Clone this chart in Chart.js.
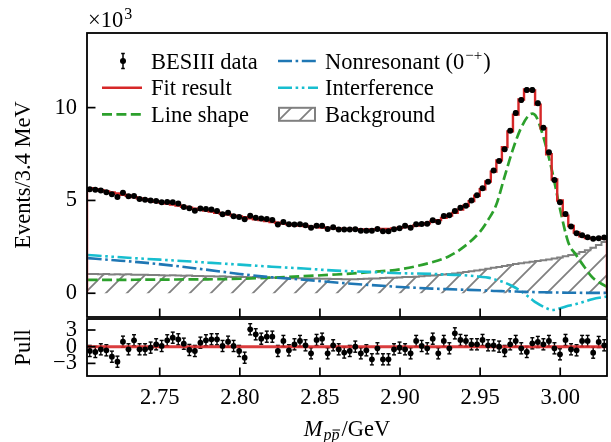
<!DOCTYPE html>
<html>
<head>
<meta charset="utf-8">
<script src="https://cdn.jsdelivr.net/npm/chart.js@4.4.1/dist/chart.umd.min.js"></script>
<style>
  body { margin: 0; background: #fff; }
  .box { position: relative; width: 611px; height: 442px; }
  canvas { position: absolute; left: 0; top: 0; }
</style>
</head>
<body>
<div class="box">
  <canvas id="mainChart" width="611" height="442"></canvas>
  <canvas id="pullChart" width="611" height="442"></canvas>
</div>
<script>
// events per 3.4 MeV bin, in units of 10^3
const dataCounts = [5.60, 5.58, 5.53, 5.44, 5.33, 5.19, 5.42, 5.22, 5.24, 5.08,
  5.04, 4.99, 4.97, 4.90, 4.92, 4.90, 4.83, 4.65, 4.58, 4.45,
  4.56, 4.54, 4.51, 4.43, 4.26, 4.33, 4.15, 4.11, 3.99, 4.18,
  4.07, 4.02, 4.00, 3.95, 3.70, 3.84, 3.72, 3.70, 3.72, 3.66,
  3.53, 3.64, 3.64, 3.46, 3.56, 3.43, 3.43, 3.43, 3.45, 3.37,
  3.36, 3.36, 3.46, 3.34, 3.34, 3.45, 3.50, 3.63, 3.53, 3.72,
  3.73, 3.75, 3.93, 3.84, 4.16, 4.20, 4.43, 4.61, 4.72, 4.99,
  5.28, 5.66, 6.01, 6.61, 7.13, 7.76, 8.76, 9.71, 10.41, 10.95,
  10.95, 10.24, 8.92, 7.60, 6.10, 4.90, 4.27, 3.59, 3.23, 3.12,
  3.02, 2.94, 2.96, 3.00];
const fitCounts = [5.66, 5.61, 5.55, 5.49, 5.43, 5.37, 5.31, 5.25, 5.18, 5.11,
  5.05, 4.99, 4.93, 4.88, 4.83, 4.78, 4.73, 4.66, 4.61, 4.55,
  4.50, 4.45, 4.40, 4.34, 4.28, 4.24, 4.18, 4.14, 4.09, 4.04,
  3.99, 3.94, 3.89, 3.84, 3.80, 3.76, 3.72, 3.68, 3.65, 3.62,
  3.59, 3.56, 3.54, 3.52, 3.50, 3.48, 3.47, 3.46, 3.45, 3.44,
  3.44, 3.44, 3.45, 3.46, 3.47, 3.49, 3.52, 3.56, 3.60, 3.65,
  3.71, 3.77, 3.85, 3.94, 4.06, 4.19, 4.33, 4.51, 4.71, 4.96,
  5.25, 5.60, 6.02, 6.55, 7.16, 7.87, 8.72, 9.62, 10.44, 10.98,
  10.92, 10.16, 8.88, 7.49, 6.13, 5.00, 4.18, 3.62, 3.27, 3.07,
  2.98, 2.96, 2.95, 2.98];
const bkgCounts = [1.03, 1.04, 1.02, 1.03, 1.01, 1.02, 1.01, 1.02, 1.00, 0.99,
  1.00, 0.98, 0.98, 0.97, 0.96, 0.97, 0.95, 0.94, 0.95, 0.93,
  0.93, 0.92, 0.92, 0.90, 0.91, 0.89, 0.88, 0.89, 0.87, 0.86,
  0.87, 0.85, 0.85, 0.84, 0.83, 0.83, 0.82, 0.81, 0.81, 0.80,
  0.79, 0.79, 0.78, 0.78, 0.77, 0.77, 0.76, 0.76, 0.76, 0.77,
  0.78, 0.79, 0.80, 0.82, 0.83, 0.84, 0.85, 0.87, 0.88, 0.89,
  0.92, 0.94, 0.96, 0.98, 1.01, 1.04, 1.07, 1.10, 1.14, 1.18,
  1.22, 1.27, 1.32, 1.37, 1.42, 1.47, 1.52, 1.57, 1.62, 1.66,
  1.70, 1.74, 1.78, 1.82, 1.87, 1.93, 1.99, 2.06, 2.13, 2.22,
  2.32, 2.45, 2.60, 2.76];
const pullValues = [-0.77, -0.95, -0.47, -0.65, -1.80, -2.70, 0.90, -0.47, 1.15, -0.47,
  -0.47, -0.17, 0.43, 0.13, 1.15, 1.62, 1.33, 0.54, -0.59, -0.77,
  0.72, 1.15, 1.33, 1.33, 0.13, 0.90, 0.13, -0.77, -1.98, 3.13,
  2.23, 1.44, 1.80, 1.80, -0.77, 1.03, -0.65, 0.43, 1.03, 0.25,
  -1.19, 1.21, 1.44, -1.19, 0.25, -0.47, -1.05, -0.77, 0.01, -1.19,
  -0.65, -2.27, -0.29, -2.27, -2.27, -0.47, -0.17, -0.47, -1.19, 1.03,
  0.13, -0.29, 1.44, -1.19, 1.03, -0.29, 2.40, 1.21, 1.03, 0.43,
  0.43, 1.21, 0.25, 0.25, 0.01, -0.77, 0.43, 1.03, -0.29, -0.95,
  0.61, 0.85, 0.43, 1.03, -0.29, -1.37, 1.21, -0.47, -0.65, 1.03,
  1.03, -1.07, 0.85, 0.25];

// smooth fit components sampled along the mass axis
const curveMass = [2.705, 2.72, 2.74, 2.76, 2.78, 2.80, 2.82, 2.84, 2.86, 2.88,
  2.90, 2.92, 2.93, 2.94, 2.95, 2.955, 2.96, 2.965, 2.97, 2.975,
  2.98, 2.9825, 2.985, 2.99, 2.995, 3.00, 3.005, 3.01, 3.015, 3.02, 3.029];
const lineShape = [0.72, 0.72, 0.73, 0.74, 0.75, 0.78, 0.84, 0.92, 1.01, 1.13,
  1.29, 1.67, 1.97, 2.51, 3.32, 3.95, 4.75, 6.20, 7.63, 8.80,
  9.55, 9.68, 9.52, 8.26, 6.55, 4.49, 2.75, 2.05, 1.43, 0.86, 0.35];
const nonResonant = [1.89, 1.79, 1.65, 1.47, 1.26, 1.04, 0.86, 0.73, 0.58, 0.45,
  0.34, 0.25, 0.22, 0.19, 0.16, 0.14, 0.12, 0.11, 0.10, 0.08,
  0.07, 0.065, 0.06, 0.05, 0.04, 0.035, 0.03, 0.03, 0.02, 0.02, 0.02];
const interference = [2.06, 1.97, 1.86, 1.76, 1.65, 1.54, 1.43, 1.33, 1.22, 1.15,
  1.08, 1.04, 1.00, 0.97, 0.89, 0.84, 0.72, 0.59, 0.39, 0.14,
  -0.18, -0.35, -0.51, -0.75, -0.90, -0.81, -0.68, -0.58, -0.45, -0.32, -0.18];

const xTicks = [2.75, 2.80, 2.85, 2.90, 2.95, 3.00];
const yTicks = [0, 5, 10];
const pullTicks = [-3, 0, 3];

const xMin = 2.7046, xMax = 3.0292;
const binWidth = (xMax - xMin) / dataCounts.length;
const binLow = dataCounts.map((_, i) => xMin + i * binWidth);
const binMid = binLow.map(v => v + binWidth / 2);

const FONT = '"Liberation Serif"';
const FS = 22.5;
const RED = '#d62728', GREEN = '#2ca02c', BLUE = '#1f77b4', CYAN = '#17becf', GREY = '#808080';
const DASH_LS = [10, 4.4], DASH_NR = [14, 3.6, 2.6, 3.6], DASH_IF = [14, 3.6, 2.6, 3.6, 2.6, 3.6];

Chart.defaults.font.family = 'Liberation Serif';
Chart.defaults.font.size = FS;
Chart.defaults.color = '#000';

function steps(vals) {
  const pts = [{x: xMin, y: 0}];
  vals.forEach((v, i) => pts.push({x: binLow[i], y: v}));
  pts.push({x: xMax, y: vals[vals.length - 1]});
  pts.push({x: xMax, y: 0});
  return pts;
}
function curve(vals) {
  return curveMass.map((x, i) => ({x: x, y: vals[i]}));
}

const hatch = (() => {
  const c = document.createElement('canvas');
  c.width = 21; c.height = 21;
  const g = c.getContext('2d');
  g.strokeStyle = GREY;
  g.lineWidth = 1.8;
  g.beginPath();
  g.moveTo(-2, 23); g.lineTo(23, -2);
  g.moveTo(-2, 2); g.lineTo(2, -2);
  g.moveTo(19, 23); g.lineTo(23, 19);
  g.stroke();
  return document.getElementById('mainChart').getContext('2d').createPattern(c, 'repeat');
})();

function seg(ctx, x1, y1, x2, y2) {
  ctx.beginPath(); ctx.moveTo(x1, y1); ctx.lineTo(x2, y2); ctx.stroke();
}

function frameAndTicks(chart, yVals) {
  const ctx = chart.ctx, a = chart.chartArea;
  const xs = chart.scales.x, ys = chart.scales.y;
  ctx.save();
  ctx.strokeStyle = '#000';
  ctx.lineWidth = 1.8;
  ctx.strokeRect(a.left, a.top, a.right - a.left, a.bottom - a.top);
  ctx.lineWidth = 1.7;
  xTicks.forEach(v => { const p = xs.getPixelForValue(v); seg(ctx, p, a.bottom, p, a.bottom - 8.5); });
  yVals.forEach(v => { const p = ys.getPixelForValue(v); seg(ctx, a.left, p, a.left + 8.5, p); });
  ctx.restore();
}

function errorBar(ctx, x, y1, y2, cap) {
  seg(ctx, x, y1, x, y2);
  seg(ctx, x - cap, y1, x + cap, y1);
  seg(ctx, x - cap, y2, x + cap, y2);
}

function drawLegend(ctx) {
  const rows = [61, 87.7, 114.3];
  ctx.save();
  ctx.fillStyle = '#000';
  ctx.font = FS + 'px ' + FONT;
  ['BESIII data', 'Fit result', 'Line shape'].forEach((t, i) => ctx.fillText(t, 151, rows[i] + 7.5));
  let x = 325;
  ctx.fillText('Nonresonant (0', x, rows[0] + 7.5);
  x += ctx.measureText('Nonresonant (0').width;
  ctx.font = '15px ' + FONT;
  ctx.fillText('\u2212+', x + 1, rows[0] - 1);
  x += ctx.measureText('\u2212+').width + 2;
  ctx.font = FS + 'px ' + FONT;
  ctx.fillText(')', x, rows[0] + 7.5);
  ctx.fillText('Interference', 325, rows[1] + 7.5);
  ctx.fillText('Background', 325, rows[2] + 7.5);

  // handles
  ctx.strokeStyle = '#000';
  ctx.lineWidth = 1.5;
  errorBar(ctx, 123, rows[0] - 7.5, rows[0] + 7.5, 1.8);
  ctx.beginPath(); ctx.arc(123, rows[0], 3, 0, Math.PI * 2); ctx.fill();

  ctx.lineWidth = 2.4; ctx.strokeStyle = RED;
  seg(ctx, 102, rows[1], 142, rows[1]);
  ctx.lineWidth = 2.7; ctx.strokeStyle = GREEN; ctx.setLineDash(DASH_LS);
  seg(ctx, 102, rows[2], 142, rows[2]);
  ctx.lineWidth = 2.6; ctx.strokeStyle = BLUE; ctx.setLineDash(DASH_NR);
  seg(ctx, 278, rows[0], 318, rows[0]);
  ctx.strokeStyle = CYAN; ctx.setLineDash(DASH_IF);
  seg(ctx, 278, rows[1], 318, rows[1]);
  ctx.setLineDash([]);
  ctx.fillStyle = hatch;
  ctx.fillRect(279, rows[2] - 6.5, 36, 13);
  ctx.strokeStyle = GREY; ctx.lineWidth = 2;
  ctx.strokeRect(279, rows[2] - 6.5, 36, 13);
  ctx.restore();
}

const mainDecor = {
  id: 'mainDecor',
  afterDatasetsDraw(chart) {
    const ctx = chart.ctx, xs = chart.scales.x, ys = chart.scales.y;
    ctx.save();
    ctx.strokeStyle = '#000';
    ctx.lineWidth = 1.3;
    dataCounts.forEach((v, i) => {
      const err = Math.sqrt(v * 1000) / 1000;
      errorBar(ctx, xs.getPixelForValue(binMid[i]), ys.getPixelForValue(v - err), ys.getPixelForValue(v + err), 1.5);
    });
    ctx.restore();
  },
  afterDraw(chart) {
    frameAndTicks(chart, yTicks);
    const ctx = chart.ctx;
    drawLegend(ctx);
    ctx.save();
    ctx.fillStyle = '#000';
    ctx.font = FS + 'px ' + FONT;
    ctx.fillText('\u00d710', 88, 27);
    const w = ctx.measureText('\u00d710').width;
    ctx.font = '16px ' + FONT;
    ctx.fillText('3', 88 + w + 1, 19);
    ctx.restore();
  }
};

const pullDecor = {
  id: 'pullDecor',
  beforeDatasetsDraw(chart) {
    const ctx = chart.ctx, xs = chart.scales.x, ys = chart.scales.y;
    ctx.save();
    ctx.strokeStyle = '#000';
    ctx.lineWidth = 1.4;
    pullValues.forEach((v, i) => {
      errorBar(ctx, xs.getPixelForValue(binMid[i]), ys.getPixelForValue(v - 1), ys.getPixelForValue(v + 1), 2);
    });
    ctx.restore();
  },
  afterDraw(chart) {
    frameAndTicks(chart, pullTicks);
    const ctx = chart.ctx;
    const cx = (chart.chartArea.left + chart.chartArea.right) / 2;
    const base = 436;
    ctx.save();
    ctx.fillStyle = '#000';
    ctx.font = 'italic ' + FS + 'px ' + FONT;
    const wM = ctx.measureText('M').width;
    ctx.font = 'italic 16px ' + FONT;
    const wp = ctx.measureText('p').width;
    ctx.font = FS + 'px ' + FONT;
    const wG = ctx.measureText('/GeV').width;
    let x = cx - (wM + 2 * wp + 3 + wG) / 2;
    ctx.font = 'italic ' + FS + 'px ' + FONT;
    ctx.fillText('M', x, base);
    x += wM + 1;
    ctx.font = 'italic 16px ' + FONT;
    ctx.fillText('pp', x, base + 4);
    ctx.strokeStyle = '#000';
    ctx.lineWidth = 1;
    seg(ctx, x + wp + 1, base - 6, x + 2 * wp + 0.5, base - 6);
    x += 2 * wp + 2;
    ctx.font = FS + 'px ' + FONT;
    ctx.fillText('/GeV', x, base);
    ctx.restore();
  }
};

new Chart(document.getElementById('mainChart'), {
  type: 'line',
  data: {
    datasets: [
      {label: 'BESIII data', data: dataCounts.map((v, i) => ({x: binMid[i], y: v})), showLine: false,
        pointRadius: 3, pointBackgroundColor: '#000', pointBorderWidth: 0, order: 0},
      {label: 'Fit result', data: steps(fitCounts), stepped: true, borderColor: RED, borderWidth: 2.4, order: 1},
      {label: 'Nonresonant', data: curve(nonResonant), borderColor: BLUE, borderWidth: 2.6, borderDash: DASH_NR,
        cubicInterpolationMode: 'monotone', order: 2},
      {label: 'Interference', data: curve(interference), borderColor: CYAN, borderWidth: 2.6, borderDash: DASH_IF,
        cubicInterpolationMode: 'monotone', order: 3},
      {label: 'Line shape', data: curve(lineShape), borderColor: GREEN, borderWidth: 2.7, borderDash: DASH_LS,
        cubicInterpolationMode: 'monotone', order: 4},
      {label: 'Background', data: steps(bkgCounts), stepped: true, borderColor: GREY, borderWidth: 2,
        fill: 'origin', backgroundColor: hatch, order: 5}
    ]
  },
  options: {
    responsive: false,
    animation: false,
    events: [],
    layout: {padding: {top: 33, right: 2, bottom: 125, left: 0}},
    elements: {point: {radius: 0}},
    plugins: {legend: {display: false}, tooltip: {enabled: false}},
    scales: {
      x: {type: 'linear', min: xMin, max: xMax, display: false},
      y: {
        min: -1.28, max: 14.02,
        afterFit: s => { s.width = 87; },
        afterBuildTicks: s => { s.ticks = yTicks.map(v => ({value: v})); },
        grid: {display: false, drawTicks: false},
        border: {display: false},
        ticks: {padding: 10, autoSkip: false, color: '#000', font: {size: FS}},
        title: {display: true, text: 'Events/3.4 MeV', color: '#000', font: {size: FS}, padding: {top: 11, bottom: 0}}
      }
    }
  },
  plugins: [mainDecor]
});

new Chart(document.getElementById('pullChart'), {
  type: 'line',
  data: {
    datasets: [
      {label: 'Pull', data: pullValues.map((v, i) => ({x: binMid[i], y: v})), showLine: false,
        pointRadius: 2.9, pointBackgroundColor: '#000', pointBorderWidth: 0, order: 0},
      {label: 'Zero', data: [{x: xMin, y: 0}, {x: xMax, y: 0}], borderColor: 'rgba(214,39,40,0.9)', borderWidth: 3, order: 1}
    ]
  },
  options: {
    responsive: false,
    animation: false,
    events: [],
    layout: {padding: {top: 319, right: 2, bottom: 0, left: 0}},
    elements: {point: {radius: 0}},
    plugins: {legend: {display: false}, tooltip: {enabled: false}},
    scales: {
      x: {
        type: 'linear', min: xMin, max: xMax,
        afterFit: s => { s.height = 66; },
        afterBuildTicks: s => { s.ticks = xTicks.map(v => ({value: v})); },
        grid: {display: false, drawTicks: false},
        border: {display: false},
        ticks: {padding: 9, autoSkip: false, color: '#000', font: {size: FS}, maxRotation: 0, callback: v => v.toFixed(2)}
      },
      y: {
        min: -5.27, max: 4.98,
        afterFit: s => { s.width = 87; },
        afterBuildTicks: s => { s.ticks = pullTicks.map(v => ({value: v})); },
        grid: {display: false, drawTicks: false},
        border: {display: false},
        ticks: {padding: 10, autoSkip: false, color: '#000', font: {size: FS}, callback: v => (v < 0 ? '\u2212' + Math.abs(v) : String(v))},
        title: {display: true, text: 'Pull', color: '#000', font: {size: FS}, padding: {top: 11, bottom: 0}}
      }
    }
  },
  plugins: [pullDecor]
});
</script>
</body>
</html>
